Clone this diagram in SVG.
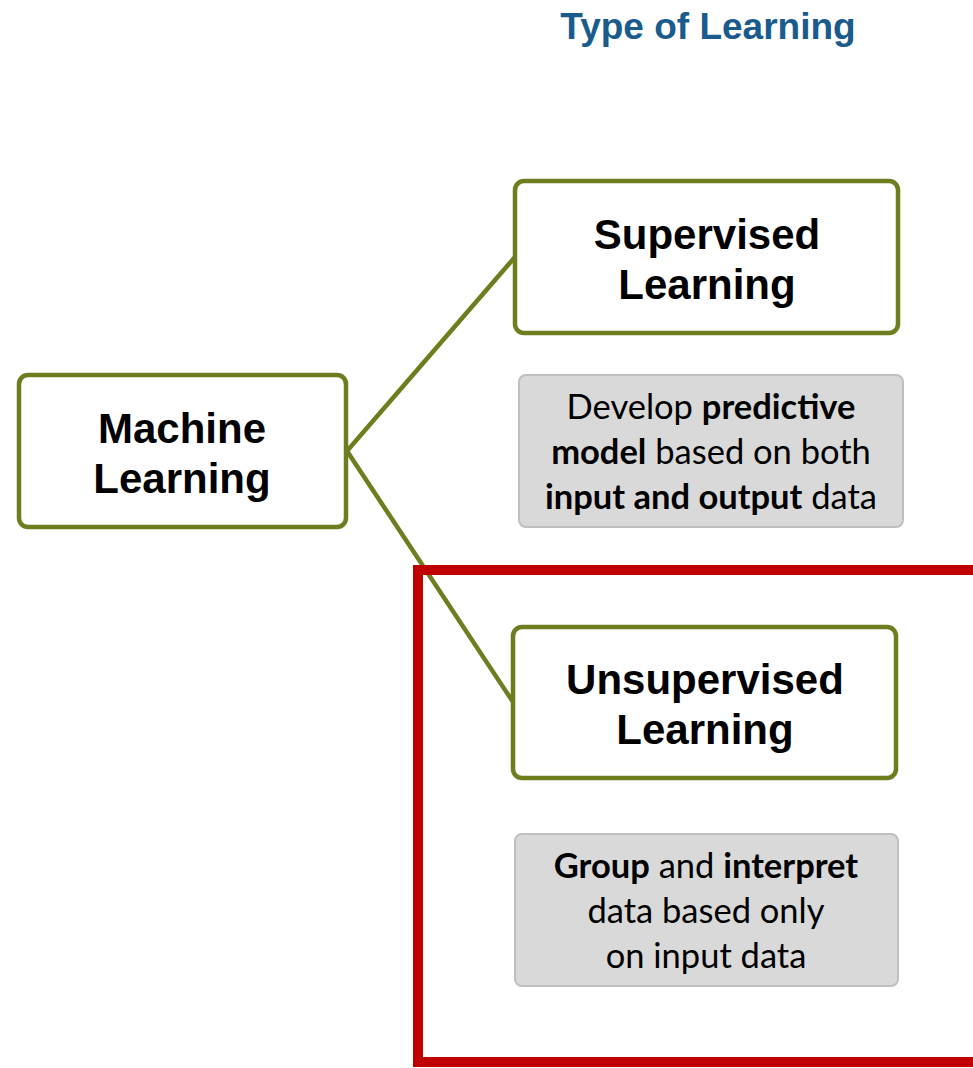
<svg xmlns="http://www.w3.org/2000/svg" width="973" height="1068" viewBox="0 0 973 1068">
<style>
.node{fill:#ffffff;stroke:#6f7d1e;stroke-width:4.5}
.desc{fill:#d9d9d9;stroke:#bfbfbf;stroke-width:2}
.conn{stroke:#6f7d1e;stroke-width:4.5;fill:none}
.ntext{font-family:"Liberation Sans",Arial,sans-serif;font-weight:bold;font-size:42px;fill:#000;text-anchor:middle}
.dtext{font-family:Lato,"Liberation Sans",sans-serif;font-size:34.5px;fill:#000;text-anchor:middle}
.b{font-weight:bold}
.title{font-family:"Liberation Sans",Arial,sans-serif;font-weight:bold;font-size:37px;fill:#1a5b8e;text-anchor:middle}
</style>
<rect width="973" height="1068" fill="#ffffff"/>
<text class="title" x="708" y="39">Type of Learning</text>
<g id="connectors">
<line class="conn" x1="347" y1="451" x2="515" y2="257"/>
<line class="conn" x1="347" y1="451" x2="513" y2="702"/>
</g>
<g id="machine-learning">
<rect class="node" x="19" y="375" width="327" height="152" rx="9"/>
<text class="ntext" x="182" y="443">Machine</text>
<text class="ntext" x="182" y="493">Learning</text>
</g>
<g id="supervised">
<rect class="node" x="515" y="181" width="383" height="152" rx="9"/>
<text class="ntext" x="707" y="249">Supervised</text>
<text class="ntext" x="707" y="299">Learning</text>
</g>
<g id="supervised-desc">
<rect class="desc" x="519" y="375" width="384" height="152" rx="7"/>
<text class="dtext" x="711" y="419">Develop <tspan class="b">predictive</tspan></text>
<text class="dtext" x="711" y="464"><tspan class="b">model</tspan> based on both</text>
<text class="dtext" x="711" y="509"><tspan class="b">input and output</tspan> data</text>
</g>
<g id="unsupervised">
<rect class="node" x="513" y="627" width="383" height="151" rx="9"/>
<text class="ntext" x="705" y="694">Unsupervised</text>
<text class="ntext" x="705" y="744">Learning</text>
</g>
<g id="unsupervised-desc">
<rect class="desc" x="515" y="834" width="383" height="152" rx="7"/>
<text class="dtext" x="706" y="878"><tspan class="b">Group</tspan> and <tspan class="b">interpret</tspan></text>
<text class="dtext" x="706" y="923">data based only</text>
<text class="dtext" x="706" y="968">on input data</text>
</g>
<g id="highlight">
<rect x="418" y="570" width="600" height="492" fill="none" stroke="#c00000" stroke-width="10"/>
</g>
</svg>
